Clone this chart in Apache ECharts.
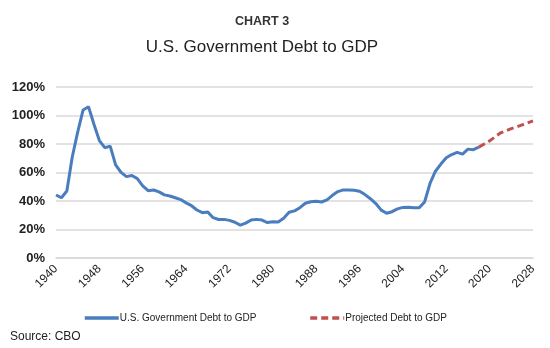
<!DOCTYPE html>
<html><head><meta charset="utf-8">
<script src="https://cdn.jsdelivr.net/npm/echarts@6/dist/echarts.min.js"></script>
<style>html,body{margin:0;padding:0;background:#fff}#c{width:550px;height:348px}</style>
</head><body><div id="c"></div>
<script>
var years = [];
for (var y = 1940; y <= 2028; y++) years.push(String(y));
var historical = [44.2,42.3,47.0,70.9,88.3,103.9,106.1,93.9,82.4,77.4,78.5,65.4,60.1,57.1,57.9,55.7,50.6,47.2,47.7,46.4,44.3,43.5,42.3,41.0,38.7,36.7,33.7,31.8,32.2,28.3,27.0,27.1,26.4,25.1,23.1,24.5,26.7,27.1,26.6,24.9,25.5,25.2,27.9,32.1,33.1,35.3,38.4,39.5,39.8,39.3,40.8,44.0,46.6,47.8,47.7,47.5,46.8,44.5,41.6,38.2,33.6,31.4,32.5,34.5,35.5,35.6,35.3,35.2,39.3,52.3,60.9,65.9,70.4,72.6,74.1,72.9,76.4,76.0,77.8];
var projectedYears = ["2018","2019","2020","2021","2022","2023","2024","2025","2026","2027","2028"];
var projected = [77.8,80.0,82.2,85.0,87.8,89.3,90.8,92.0,93.4,94.8,96.2];

var histData = years.map(function(yr, i){ return i < historical.length ? historical[i] : null; });
var projData = years.map(function(yr){ var k = projectedYears.indexOf(yr); return k >= 0 ? projected[k] : null; });

var chart = echarts.init(document.getElementById('c'));
chart.setOption({
  animation: false,
  textStyle: {fontFamily: 'Liberation Sans, Arial, sans-serif'},
  graphic: [
    {type:'text', x: 262, y: 15, style:{text:'CHART 3', textAlign:'center', textVerticalAlign:'top', font:'bold 12.5px "Liberation Sans", Arial', fill:'#333'}},
    {type:'text', x: 262, y: 39, style:{text:'U.S. Government Debt to GDP', textAlign:'center', textVerticalAlign:'top', font:'17px "Liberation Sans", Arial', fill:'#222'}},
    {type:'text', x: 10, y: 331, style:{text:'Source: CBO', textVerticalAlign:'top', font:'12px "Liberation Sans", Arial', fill:'#222'}}
  ],
  grid: {left: 56, right: 17, top: 87, bottom: 90, containLabel: false},
  legend: {
    left: 78, top: 308, itemWidth: 34, itemHeight: 10, itemGap: 52,
    itemStyle: {opacity: 0},
    lineStyle: {width: 3.5},
    textStyle: {fontSize: 10, color: '#222', padding:[0,0,0,-4]},
    data: ['U.S. Government Debt to GDP', 'Projected Debt to GDP']
  },
  xAxis: {
    type: 'category', data: years, boundaryGap: false,
    axisLine: {lineStyle: {color: '#d9d9d9', width: 1.5}},
    axisTick: {show: false},
    axisLabel: {interval: 7, rotate: 45, fontSize: 12, color: '#222', margin: 9}
  },
  yAxis: {
    type: 'value', min: 0, max: 120, interval: 20,
    axisLine: {show: false}, axisTick: {show: false},
    splitLine: {lineStyle: {color: '#d9d9d9', width: 1.5}},
    axisLabel: {formatter: '{value}%', fontSize: 13, fontWeight: 'bold', color: '#222', margin: 11}
  },
  series: [
    {name: 'U.S. Government Debt to GDP', type: 'line', data: histData, symbol: 'none', showSymbol: false,
     lineStyle: {color: '#4a7dbf', width: 3}, itemStyle: {color: '#4a7dbf'}},
    {name: 'Projected Debt to GDP', type: 'line', data: projData, symbol: 'none', showSymbol: false,
     lineStyle: {color: '#c0504d', width: 3, type: [7, 4]}, itemStyle: {color: '#c0504d'}}
  ]
});
</script></body></html>
